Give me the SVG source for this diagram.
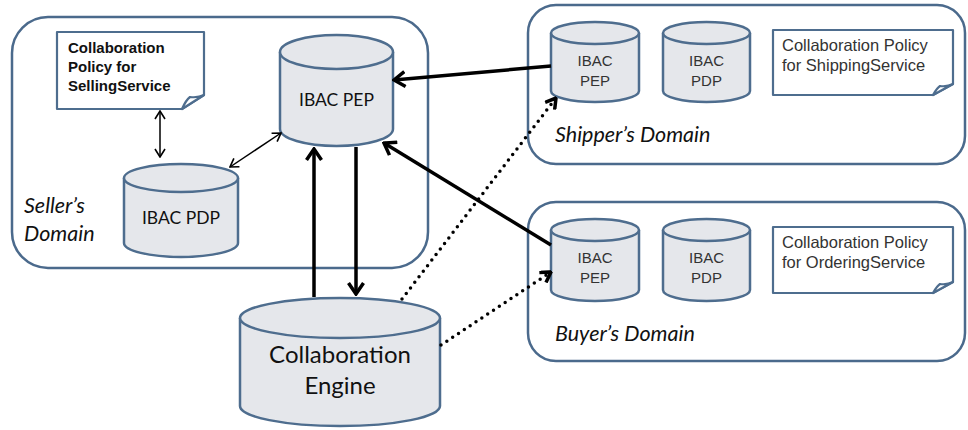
<svg xmlns="http://www.w3.org/2000/svg" width="968" height="430" viewBox="0 0 968 430">
<defs>
<style>
.dom{fill:#fff;stroke:#4b6a8c;stroke-width:2.5}
.cyl{fill:#e5e7eb;stroke:#4e6d8e;stroke-width:2.5}
.note{fill:#fff;stroke:#4e6d8e;stroke-width:2.2;stroke-linejoin:round}
.lab{font-family:Lato,"Open Sans",sans-serif;fill:#111}
.dl{font-family:Lato,"Open Sans",sans-serif;font-style:italic;font-size:21.5px;fill:#111}
.sm{font-family:"Liberation Sans",Arial,sans-serif;font-size:15px;fill:#333;text-anchor:middle}
.nt{font-family:"Liberation Sans",Arial,sans-serif;font-size:16.5px;fill:#333}
.thick{stroke:#000;stroke-width:3.5;fill:none}
.thin{stroke:#000;stroke-width:1.5;fill:none}
.dot{stroke:#000;stroke-width:3.5;fill:none;stroke-dasharray:0 7;stroke-linecap:round}
</style>
<marker id="ah" viewBox="0 0 14 18" refX="12" refY="9" markerWidth="14" markerHeight="18" markerUnits="userSpaceOnUse" orient="auto-start-reverse">
<path d="M1,1.5 L12,9 L1,16.5" fill="none" stroke="#000" stroke-width="3.5"/>
</marker>
<marker id="ahs" viewBox="0 0 10 12" refX="9" refY="6" markerWidth="10" markerHeight="12" markerUnits="userSpaceOnUse" orient="auto-start-reverse">
<path d="M1,1 L9,6 L1,11" fill="none" stroke="#000" stroke-width="1.6"/>
</marker>
<marker id="ahd" viewBox="0 0 12 14" refX="11" refY="7" markerWidth="12" markerHeight="14" markerUnits="userSpaceOnUse" orient="auto">
<path d="M1,1 L11,7 L1,13" fill="none" stroke="#000" stroke-width="3.5"/>
</marker>
</defs>
<rect width="968" height="430" fill="#fff"/>

<g id="seller-domain">
<rect class="dom" x="12" y="17" width="416" height="251" rx="36" ry="36"/>
<text class="dl" x="24" y="213">Seller’s</text>
<text class="dl" x="24" y="241">Domain</text>
</g>
<g id="shipper-domain">
<rect class="dom" x="528" y="5" width="437" height="159" rx="28" ry="28"/>
<text class="dl" x="555" y="142">Shipper’s Domain</text>
</g>
<g id="buyer-domain">
<rect class="dom" x="528" y="202" width="437" height="159" rx="28" ry="28"/>
<text class="dl" x="555" y="341">Buyer’s Domain</text>
</g>

<g id="selling-policy">
<path class="note" d="M57,32 H204 V95 L182,109 H57 Z"/>
<path class="note" d="M182,109 Q186,100 190,97 Q198,98 204,95 Z"/>
<text font-family="Liberation Sans,Arial,sans-serif" font-weight="bold" font-size="15" fill="#111">
<tspan x="68" y="53">Collaboration</tspan>
<tspan x="68" y="72">Policy for</tspan>
<tspan x="68" y="91">SellingService</tspan>
</text>
</g>

<g id="seller-pep">
<path class="cyl" d="M280,52 V129 A56.5,17 0 0 0 393,129 V52"/>
<ellipse class="cyl" cx="336.5" cy="52" rx="56.5" ry="17"/>
<text class="lab" x="336.5" y="106" font-size="17.5" text-anchor="middle">IBAC PEP</text>
</g>
<g id="seller-pdp">
<path class="cyl" d="M124,178 V243 A57,14 0 0 0 238,243 V178"/>
<ellipse class="cyl" cx="181" cy="178" rx="57" ry="14"/>
<text class="lab" x="181" y="224" font-size="17.5" text-anchor="middle">IBAC PDP</text>
</g>
<g id="engine">
<path class="cyl" d="M240,318 V406 A100,20 0 0 0 440,406 V318"/>
<ellipse class="cyl" cx="340" cy="318" rx="100" ry="20"/>
<text class="lab" x="340" y="363" font-size="24" text-anchor="middle">Collaboration</text>
<text class="lab" x="340" y="394" font-size="24" text-anchor="middle">Engine</text>
</g>

<g id="shipper-pep">
<path class="cyl" d="M551,33 V91 A44,11 0 0 0 639,91 V33"/>
<ellipse class="cyl" cx="595" cy="33" rx="44" ry="11"/>
<text class="sm" x="595" y="66">IBAC</text>
<text class="sm" x="595" y="86">PEP</text>
</g>
<g id="shipper-pdp">
<path class="cyl" d="M663,33 V91 A43.5,11 0 0 0 750,91 V33"/>
<ellipse class="cyl" cx="706.5" cy="33" rx="43.5" ry="11"/>
<text class="sm" x="706.5" y="66">IBAC</text>
<text class="sm" x="706.5" y="86">PDP</text>
</g>
<g id="shipping-policy">
<path class="note" d="M773,30 H953 V84 L933,95 H773 Z"/>
<path class="note" d="M933,95 Q937,88 940,86 Q947,87 953,84 Z"/>
<text class="nt" x="782" y="51">Collaboration Policy</text>
<text class="nt" x="782" y="71">for ShippingService</text>
</g>

<g id="buyer-pep">
<path class="cyl" d="M551,230 V290 A44,11 0 0 0 639,290 V230"/>
<ellipse class="cyl" cx="595" cy="230" rx="44" ry="11"/>
<text class="sm" x="595" y="263">IBAC</text>
<text class="sm" x="595" y="283">PEP</text>
</g>
<g id="buyer-pdp">
<path class="cyl" d="M663,230 V290 A43.5,11 0 0 0 750,290 V230"/>
<ellipse class="cyl" cx="706.5" cy="230" rx="43.5" ry="11"/>
<text class="sm" x="706.5" y="263">IBAC</text>
<text class="sm" x="706.5" y="283">PDP</text>
</g>
<g id="ordering-policy">
<path class="note" d="M773,227 H953 V282 L933,293 H773 Z"/>
<path class="note" d="M933,293 Q937,286 940,284 Q947,285 953,282 Z"/>
<text class="nt" x="782" y="248">Collaboration Policy</text>
<text class="nt" x="782" y="268">for OrderingService</text>
</g>

<g id="connectors">
<line class="thin" x1="160" y1="111" x2="160" y2="157" marker-start="url(#ahs)" marker-end="url(#ahs)"/>
<line class="thin" x1="230" y1="167" x2="281" y2="133" marker-start="url(#ahs)" marker-end="url(#ahs)"/>
<line class="thick" x1="314" y1="297" x2="314" y2="149" marker-end="url(#ah)"/>
<line class="thick" x1="356" y1="147" x2="356" y2="294" marker-end="url(#ah)"/>
<line class="thick" x1="551" y1="66" x2="394" y2="80" marker-end="url(#ah)"/>
<line class="thick" x1="551" y1="245" x2="384" y2="143" marker-end="url(#ah)"/>
<line class="dot" x1="402" y1="299" x2="556" y2="98" marker-end="url(#ahd)"/>
<line class="dot" x1="441" y1="345" x2="551" y2="272" marker-end="url(#ahd)"/>
</g>
</svg>
